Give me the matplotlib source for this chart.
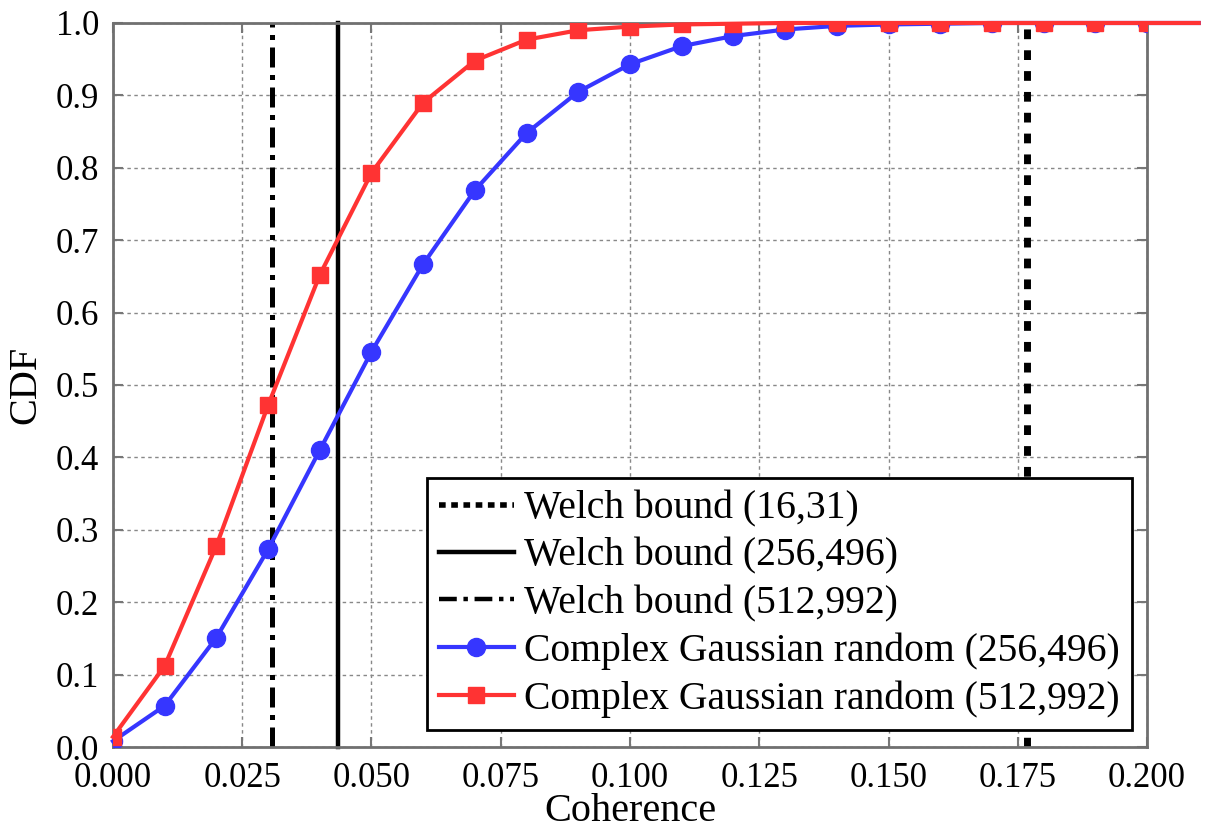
import matplotlib
matplotlib.use("Agg")
import matplotlib.pyplot as plt
from matplotlib.lines import Line2D

plt.rcParams['font.family'] = ['Liberation Serif', 'DejaVu Serif']

coherence = [0.00, 0.01, 0.02, 0.03, 0.04, 0.05, 0.06, 0.07, 0.08, 0.09, 0.10,
             0.11, 0.12, 0.13, 0.14, 0.15, 0.16, 0.17, 0.18, 0.19, 0.20, 0.21]
cdf_256 = [0.008, 0.057, 0.151, 0.273, 0.410, 0.546, 0.667, 0.769, 0.848, 0.905, 0.943,
           0.968, 0.982, 0.991, 0.996, 0.998, 0.999, 1.0, 1.0, 1.0, 1.0, 1.0]
cdf_512 = [0.014, 0.112, 0.278, 0.472, 0.652, 0.793, 0.890, 0.948, 0.977, 0.990, 0.995,
           0.998, 0.999, 1.0, 1.0, 1.0, 1.0, 1.0, 1.0, 1.0, 1.0, 1.0]
welch_16 = 0.1768
welch_256 = 0.0435
welch_512 = 0.0308

labels = ["Welch bound (16,31)", "Welch bound (256,496)", "Welch bound (512,992)",
          "Complex Gaussian random (256,496)", "Complex Gaussian random (512,992)"]
xticks = [0.000, 0.025, 0.050, 0.075, 0.100, 0.125, 0.150, 0.175, 0.200]
yticks = [0.0, 0.1, 0.2, 0.3, 0.4, 0.5, 0.6, 0.7, 0.8, 0.9, 1.0]

blue = '#3636FF'
red = '#FF3333'

fig = plt.figure(figsize=(12.07, 8.30), dpi=100)
ax = fig.add_axes([0.0936, 0.1, 0.9503 - 0.0936, 0.9723 - 0.1])

ax.grid(True, color='#888888', linestyle=(0, (2.5, 2.5)), linewidth=1.0)
ax.set_axisbelow(True)

vl_kw = dict(color='black', clip_on=False)
ax.plot([welch_16, welch_16], [0, 1], linestyle=(0, (1.4, 1.6)), linewidth=5, **vl_kw)
ax.plot([welch_256, welch_256], [0, 1], linestyle='-', linewidth=3.2, **vl_kw)
ax.plot([welch_512, welch_512], [0, 1], linestyle=(0, (4, 1.5, 1, 1.5)), linewidth=3.6, **vl_kw)

n = 21
ax.plot(coherence, cdf_256, color=blue, linewidth=3, clip_on=False, zorder=3)
ax.plot(coherence[:n], cdf_256[:n], color=blue, linestyle='none', marker='o',
        markersize=13, zorder=3)
ax.plot(coherence, cdf_512, color=red, linewidth=3, clip_on=False, zorder=4)
ax.plot(coherence[:n], cdf_512[:n], color=red, linestyle='none', marker='s',
        markersize=12, zorder=4)

ax.set_xlim(0, 0.2)
ax.set_ylim(0, 1.0)
ax.set_xticks(xticks)
ax.set_xticklabels([f"{t:.3f}" for t in xticks])
ax.set_yticks(yticks)
ax.set_yticklabels([f"{t:.1f}" for t in yticks])
ax.tick_params(axis='both', direction='in', length=7, width=1.5, color='#777777',
               labelsize=25, top=True, right=True)
ax.tick_params(axis='x', pad=11)
ax.tick_params(axis='y', pad=10)
for s in ax.spines.values():
    s.set_color('#707070')
    s.set_linewidth(2)

ax.set_xlabel("Coherence", fontsize=29, labelpad=-2)
ax.set_ylabel("CDF", fontsize=29, labelpad=8)

handles = [
    Line2D([], [], color='black', linestyle=(0, (1.2, 1.0)), linewidth=4),
    Line2D([], [], color='black', linestyle='-', linewidth=3.2),
    Line2D([], [], color='black', linestyle=(0, (4, 1.5, 1, 1.5)), linewidth=3.2),
    Line2D([], [], color=blue, linewidth=3, marker='o', markersize=13),
    Line2D([], [], color=red, linewidth=3, marker='s', markersize=12),
]
leg = ax.legend(handles, labels, loc='lower right', bbox_to_anchor=(0.985, 0.024),
                fontsize=28.5, fancybox=False, framealpha=1, edgecolor='black',
                handlelength=1.9, handletextpad=0.25, labelspacing=0.26,
                borderpad=0.3, borderaxespad=0, numpoints=1)
leg.get_frame().set_linewidth(2)

fig.savefig("out.png", dpi=100)
